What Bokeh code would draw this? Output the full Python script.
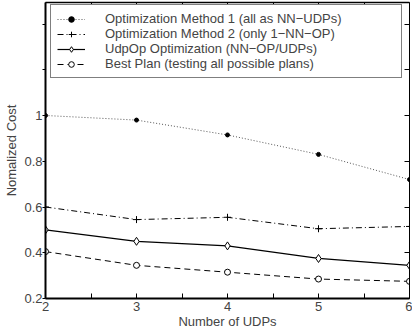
from bokeh.plotting import figure
from bokeh.models import (LinearAxis, FixedTicker, Legend, LegendItem, Range1d)
from bokeh.embed import file_html
from bokeh.resources import INLINE

# ---- data ----
udps = [2, 3, 4, 5, 6]
method1 = [1.0, 0.98, 0.915, 0.83, 0.72]
method2 = [0.6, 0.545, 0.555, 0.505, 0.515]
udpop = [0.5, 0.45, 0.43, 0.375, 0.345]
best = [0.405, 0.345, 0.315, 0.285, 0.275]

labels = ["Optimization Method 1 (all as NN\u2212UDPs)",
          "Optimization Method 2 (only 1\u2212NN\u2212OP)",
          "UdpOp Optimization (NN\u2212OP/UDPs)",
          "Best Plan (testing all possible plans)"]

x_major = [2, 3, 4, 5, 6]
x_minor = [2.5, 3.5, 4.5, 5.5]
x_all = [2, 2.5, 3, 3.5, 4, 4.5, 5, 5.5, 6]
y_major = [0.2, 0.4, 0.6, 0.8, 1.0]
y_minor = [1.2, 1.4]
y_all = [0.2, 0.4, 0.6, 0.8, 1.0, 1.2, 1.4]
y_tick_labels = {1.0: "1"}

FONT = "Liberation Sans"

p = figure(width=412, height=333, output_backend="svg", toolbar_location=None,
           x_range=Range1d(2, 6), y_range=Range1d(0.2, 1.494),
           min_border_left=45, min_border_right=3, min_border_top=2, min_border_bottom=35,
           x_axis_label="Number of UDPs", y_axis_label="Nomalized Cost")
p.grid.visible = False
p.outline_line_color = None
p.background_fill_color = "white"
p.border_fill_color = "white"

for ax in p.xaxis:
    ax.ticker = FixedTicker(ticks=x_major, minor_ticks=x_minor)
    ax.major_tick_in = 5
    ax.major_tick_out = 0
    ax.minor_tick_in = 5
    ax.minor_tick_out = 0
    ax.axis_line_width = 2
    ax.major_label_standoff = 3
    ax.axis_label_standoff = 0
    ax.major_label_text_font = FONT
    ax.major_label_text_font_size = "13px"
    ax.axis_label_text_font = FONT
    ax.axis_label_text_font_size = "13px"
    ax.axis_label_text_font_style = "normal"

for ax in p.yaxis:
    ax.ticker = FixedTicker(ticks=y_major, minor_ticks=y_minor)
    ax.major_label_overrides = y_tick_labels
    ax.major_tick_in = 0
    ax.major_tick_out = 3
    ax.minor_tick_in = 0
    ax.minor_tick_out = 3
    ax.axis_line_width = 2
    ax.major_label_standoff = 0
    ax.axis_label_standoff = 2
    ax.major_label_text_font = FONT
    ax.major_label_text_font_size = "13px"
    ax.axis_label_text_font = FONT
    ax.axis_label_text_font_size = "13px"
    ax.axis_label_text_font_style = "normal"

top = LinearAxis(ticker=FixedTicker(ticks=[], minor_ticks=x_all),
                 major_label_standoff=0, major_tick_in=0, major_tick_out=0,
                 minor_tick_in=5, minor_tick_out=0, axis_line_width=1.5)
right = LinearAxis(ticker=FixedTicker(ticks=[], minor_ticks=y_all),
                   major_label_standoff=0, major_tick_in=0, major_tick_out=0,
                   minor_tick_in=5, minor_tick_out=0, axis_line_width=1)
p.add_layout(top, "above")
p.add_layout(right, "right")

l1 = p.line(udps, method1, line_color="#555555", line_width=1, line_dash="1 2")
s1 = p.scatter(udps, method1, marker="circle", size=4, fill_color="black", line_color="black")
l2 = p.line(udps, method2, line_color="black", line_width=1, line_dash="6 3 1 3")
s2 = p.scatter(udps, method2, marker="cross", size=7, line_color="black", line_width=1)
l3 = p.line(udps, udpop, line_color="black", line_width=1.2)
s3 = p.scatter(udps, udpop, marker="diamond", size=8, fill_color="white", line_color="black", line_width=1)
l4 = p.line(udps, best, line_color="black", line_width=1, line_dash="6 4")
s4 = p.scatter(udps, best, marker="circle", size=6, fill_color="white", line_color="black", line_width=1)

legend = Legend(items=[LegendItem(label=labels[0], renderers=[l1, s1]),
                       LegendItem(label=labels[1], renderers=[l2, s2]),
                       LegendItem(label=labels[2], renderers=[l3, s3]),
                       LegendItem(label=labels[3], renderers=[l4, s4])],
                location=(5, 220), glyph_width=28, glyph_height=14, label_height=14,
                label_width=290, label_standoff=20, spacing=0, padding=6, margin=0,
                border_line_color="black", border_line_width=1.5,
                background_fill_color="white", background_fill_alpha=1,
                label_text_font=FONT, label_text_font_size="13px")
p.add_layout(legend, "center")

open("out.html", "w").write(file_html(p, INLINE))
